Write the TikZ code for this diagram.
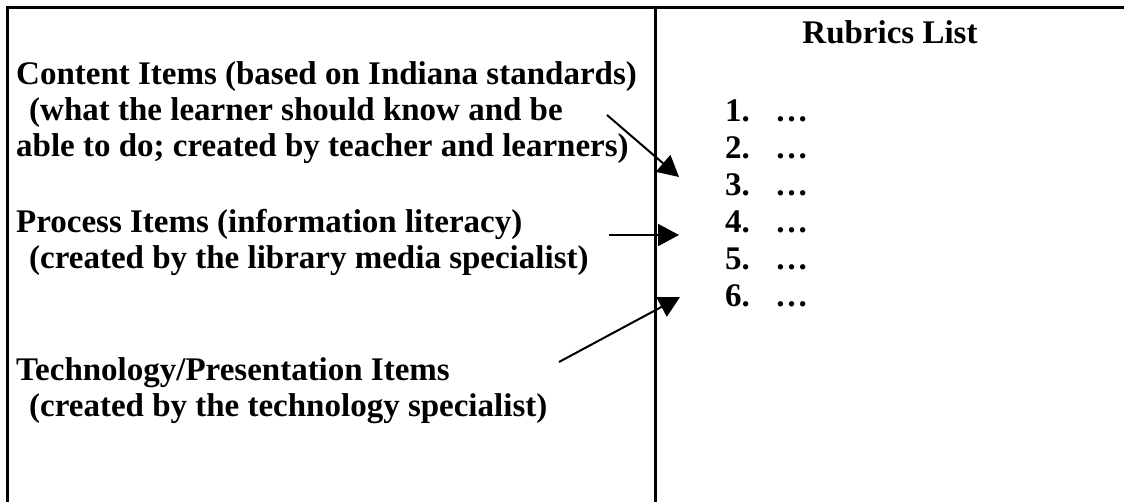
\documentclass[tikz,border=0pt]{standalone}
\usepackage{fontspec}
\setmainfont{Liberation Serif}
\usetikzlibrary{arrows.meta}
\begin{document}
\begin{tikzpicture}[x=1pt,y=-1pt,
  txt/.style={anchor=base west,inner sep=0pt,font=\fontsize{33}{37}\selectfont\bfseries},
  frame/.style={line width=3pt},
  arr/.style={line width=2pt,-{Triangle[length=21pt,width=22pt]}}]
\useasboundingbox (0,0) rectangle (1124,502);
% frame
\draw[frame] (7,502) -- (7,8) -- (1124,8);
\draw[frame] (655,8) -- (655,502);
% left texts
\node[txt] (c1) at (16,85) {Content Items (based on Indiana standards)};
\node[txt] (c2) at (29,121) {(what the learner should know and be};
\node[txt] (c3) at (16,157) {able to do; created by teacher and learners)};
\node[txt] (p1) at (16,233) {Process Items (information literacy)};
\node[txt] (p2) at (29,269) {(created by the library media specialist)};
\node[txt] (t1) at (16,381) {Technology/Presentation Items};
\node[txt] (t2) at (29,416) {(created by the technology specialist)};
% right texts
\node[txt,anchor=base] (title) at (890,44) {Rubrics List};
\foreach \i/\y in {1/122,2/159,3/196,4/233,5/270,6/307}{
  \node[txt] (n\i) at (725,\y) {\i.};
  \node[txt] (d\i) at (775,\y) {\dots};
}
% arrows
\coordinate (a1s) at (607,115);
\coordinate (a1e) at (679,177);
\coordinate (a2s) at (609,235);
\coordinate (a2e) at (679,235);
\coordinate (a3s) at (559,362);
\coordinate (a3e) at (680,297);
\draw[arr] (a1s) -- (a1e);
\draw[arr] (a2s) -- (a2e);
\draw[arr] (a3s) -- (a3e);
\end{tikzpicture}
\end{document}
